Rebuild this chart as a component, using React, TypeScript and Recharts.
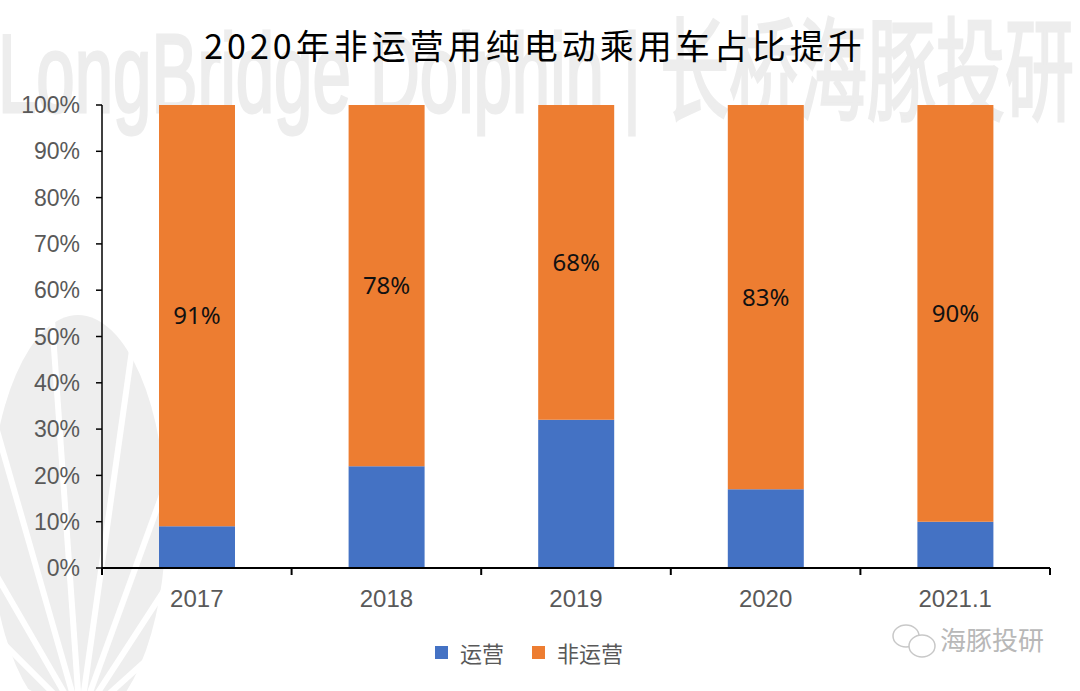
import { BarChart, Bar, XAxis, YAxis, Legend, LabelList } from "recharts";

const CATEGORIES = ["2017", "2018", "2019", "2020", "2021.1"];
const OPERATING = [9, 22, 32, 17, 10];
const NON_OPERATING = [91, 78, 68, 83, 90];
const Y_TICKS = [0, 10, 20, 30, 40, 50, 60, 70, 80, 90, 100];
const SERIES_NAMES = ["运营", "非运营"];
const SERIES_COLORS = ["#4472C4", "#ED7D31"];

const data = CATEGORIES.map((c, i) => ({
  name: c,
  op: OPERATING[i],
  nonOp: NON_OPERATING[i],
}));

const W = 1080;
const H = 691;
const LEFT = 102;
const RIGHT = 30;
const BAND = (W - LEFT - RIGHT) / CATEGORIES.length;

// x tick: label at centre, tick marks at band edges
const XTick = (props: any) => {
  const { x, y, payload, index } = props;
  const half = BAND / 2;
  return (
    <g>
      <line x1={x - half} x2={x - half} y1={y} y2={y + 7} stroke="#000" strokeWidth={2} />
      {index === CATEGORIES.length - 1 && (
        <line x1={x + half} x2={x + half} y1={y} y2={y + 7} stroke="#000" strokeWidth={2} />
      )}
      <text
        x={x}
        y={y + 39}
        textAnchor="middle"
        fontSize={24}
        fill="#595959"
        fontFamily="'Liberation Sans', Arial, sans-serif"
      >
        {payload.value}
      </text>
    </g>
  );
};

const LegendContent = () => (
  <div
    style={{
      display: "flex",
      justifyContent: "center",
      alignItems: "center",
      gap: 28,
      paddingLeft: 8,
      fontFamily: "'Noto Sans CJK SC', sans-serif",
      fontSize: 22,
      lineHeight: "26px",
      color: "#595959",
    }}
  >
    {SERIES_NAMES.map((n, i) => (
      <div key={n} style={{ display: "flex", alignItems: "center", gap: 12 }}>
        <span style={{ width: 13, height: 13, background: SERIES_COLORS[i], display: "inline-block" }} />
        <span>{n}</span>
      </div>
    ))}
  </div>
);

// background fan logo rays
const RAYS = [-62, -45, -30, -16, -4, 8, 20, 33, 48, 64];

export default function App() {
  return (
    <div
      style={{
        position: "absolute",
        left: 0,
        top: 0,
        width: W,
        height: H,
        background: "#fff",
        overflow: "hidden",
      }}
    >
      {/* watermark */}
      <svg width={W} height={H} style={{ position: "absolute", left: 0, top: 0 }}>
        <text
          x={-2}
          y={112}
          fontSize={112}
          fill="#ededed"
          stroke="#ededed"
          strokeWidth={3}
          textLength={1076}
          lengthAdjust="spacingAndGlyphs"
          fontFamily="'Liberation Sans Narrow', 'Liberation Sans', 'Noto Sans CJK SC', sans-serif"
        >
          LongBridge Dolphin | 长桥海豚投研
        </text>
        <ellipse cx={78} cy={520} rx={88} ry={205} fill="#eeeeee" />
        {RAYS.map((a) => {
          const r = (a * Math.PI) / 180;
          return (
            <line
              key={a}
              x1={80}
              y1={720}
              x2={80 + Math.sin(r) * 420}
              y2={720 - Math.cos(r) * 420}
              stroke="#fff"
              strokeWidth={6}
            />
          );
        })}
        {/* wechat bubbles */}
        <ellipse cx={906} cy={636} rx={13} ry={11} fill="none" stroke="#c8c8c8" strokeWidth={1.5} />
        <ellipse cx={922} cy={646} rx={13} ry={11} fill="#fff" stroke="#c8c8c8" strokeWidth={1.5} />
      </svg>

      <div
        style={{
          position: "absolute",
          left: 0,
          top: 23,
          width: W - 10,
          textAlign: "center",
          fontFamily: "'Noto Sans CJK SC', sans-serif",
          fontSize: 34,
          letterSpacing: 4,
          color: "#000",
          lineHeight: "44px",
        }}
      >
        2020年非运营用纯电动乘用车占比提升
      </div>

      <div style={{ position: "absolute", left: 0, top: 0 }}>
        <BarChart
          width={W}
          height={H}
          data={data}
          margin={{ top: 105, right: RIGHT, bottom: 26, left: 0 }}
          barSize={76}
        >
          <XAxis
            dataKey="name"
            axisLine={{ stroke: "#000", strokeWidth: 2 }}
            tickLine={false}
            tickSize={0}
            tickMargin={0}
            height={71}
            tick={<XTick />}
            interval={0}
          />
          <YAxis
            domain={[0, 100]}
            ticks={Y_TICKS}
            width={LEFT}
            axisLine={{ stroke: "#000", strokeWidth: 1.5 }}
            tickLine={{ stroke: "#000", strokeWidth: 1.5 }}
            tickSize={6}
            tickMargin={16}
            tickFormatter={(v: number) => `${v}%`}
            tick={{ fontSize: 23, fill: "#595959", fontFamily: "'Liberation Sans', Arial, sans-serif" }}
          />
          <Legend verticalAlign="bottom" height={26} content={<LegendContent />} />
          <Bar dataKey="op" name={SERIES_NAMES[0]} stackId="a" fill={SERIES_COLORS[0]} isAnimationActive={false} />
          <Bar dataKey="nonOp" name={SERIES_NAMES[1]} stackId="a" fill={SERIES_COLORS[1]} isAnimationActive={false}>
            <LabelList
              dataKey="nonOp"
              position="center"
              formatter={(v: number) => `${v}%`}
              fill="#111"
              fontSize={24}
              fontFamily="'Noto Sans', sans-serif"
            />
          </Bar>
        </BarChart>
      </div>

      <div
        style={{
          position: "absolute",
          left: 940,
          top: 622,
          fontFamily: "'Noto Sans CJK SC', sans-serif",
          fontSize: 26,
          color: "#b8b8b8",
          lineHeight: "34px",
        }}
      >
        海豚投研
      </div>
    </div>
  );
}
